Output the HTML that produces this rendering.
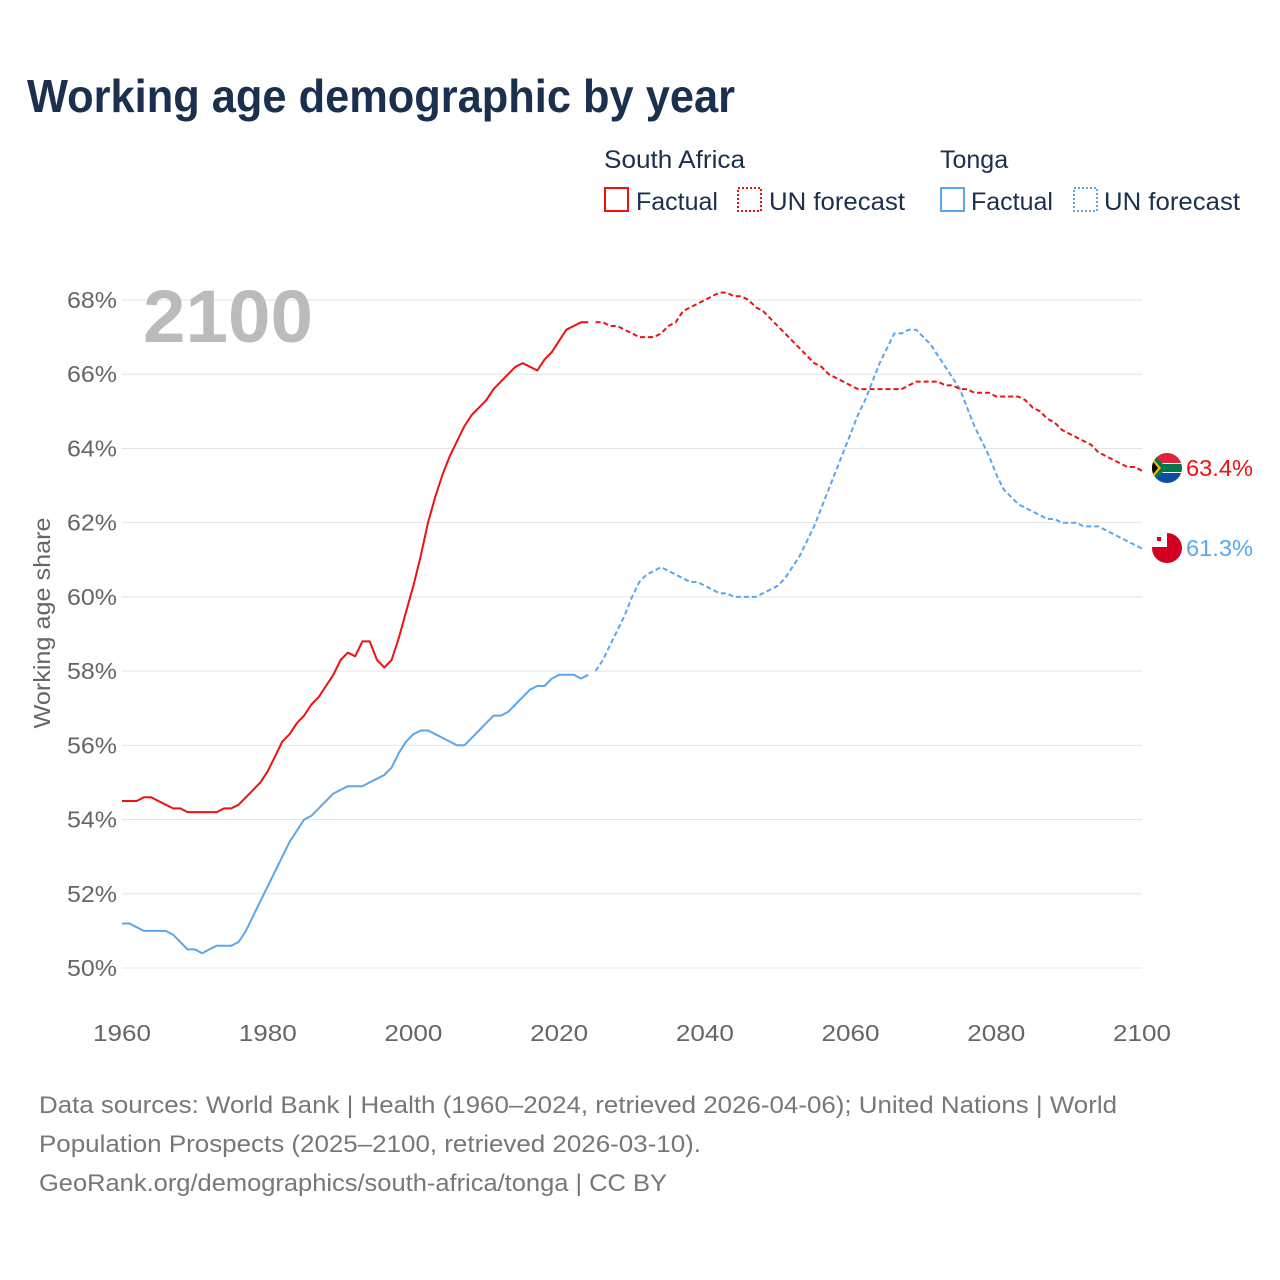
<!DOCTYPE html>
<html><head><meta charset="utf-8"><style>
body{margin:0;background:#fff;font-family:"Liberation Sans",sans-serif;}
#wrap{position:relative;width:1280px;height:1280px;overflow:hidden;}
</style></head><body><div id="wrap">
<svg id="chart" width="1280" height="1280" xmlns="http://www.w3.org/2000/svg">
<defs>
<clipPath id="c1"><circle cx="1167" cy="468" r="15"/></clipPath>
<clipPath id="c2"><circle cx="1167" cy="548" r="15"/></clipPath>
</defs>
<text x="27" y="112" font-size="46" font-weight="bold" fill="#1b2f4e" textLength="708" lengthAdjust="spacingAndGlyphs">Working age demographic by year</text>
<g font-size="25" fill="#1b2f4e">
<text x="604" y="168" textLength="141" lengthAdjust="spacingAndGlyphs">South Africa</text>
<text x="940" y="168">Tonga</text>
<g><rect x="605" y="188" width="23" height="23" fill="none" stroke="#ee1111" stroke-width="2"/><text x="636" y="210">Factual</text></g>
<g><rect x="738" y="188" width="23" height="23" fill="none" stroke="#ee1111" stroke-width="2" stroke-dasharray="2,2"/><text x="769" y="210" textLength="136" lengthAdjust="spacingAndGlyphs">UN forecast</text></g>
<g><rect x="941" y="188" width="23" height="23" fill="none" stroke="#5ba7ea" stroke-width="2"/><text x="971" y="210">Factual</text></g>
<g><rect x="1074" y="188" width="23" height="23" fill="none" stroke="#5ba7ea" stroke-width="2" stroke-dasharray="2,2"/><text x="1104" y="210" textLength="136" lengthAdjust="spacingAndGlyphs">UN forecast</text></g>
</g>
<g id="grid"></g>
<g id="yticks" font-size="23" fill="#666" text-anchor="end"></g>
<g id="xticks" font-size="23" fill="#666" text-anchor="middle"></g>
<text x="143" y="342" font-size="74" font-weight="bold" fill="#bbbbbb" textLength="170" lengthAdjust="spacingAndGlyphs">2100</text>
<text transform="translate(50,623) rotate(-90)" font-size="23" fill="#666" text-anchor="middle" textLength="211" lengthAdjust="spacingAndGlyphs">Working age share</text>
<g id="series"></g>
<g clip-path="url(#c1)">
<rect x="1150" y="451" width="34" height="34" fill="#fff"/>
<rect x="1150" y="451" width="34" height="12" fill="#e0233b"/>
<rect x="1150" y="473" width="34" height="12" fill="#0b4ea2"/>
<polygon points="1150,451 1163,464 1184,464 1184,472 1163,472 1150,485" fill="#007a4d"/>
<polygon points="1150,455 1161,468 1150,481" fill="#ffb612"/>
<polygon points="1150,458 1158,468 1150,478" fill="#000"/>
</g>
<g clip-path="url(#c2)">
<rect x="1150" y="531" width="34" height="34" fill="#d10022"/>
<rect x="1150" y="531" width="17" height="16" fill="#fff"/>
<rect x="1157" y="537" width="4" height="4" fill="#d10022"/>
</g>
<text x="1186" y="476" font-size="23" fill="#ee1111" textLength="67" lengthAdjust="spacingAndGlyphs">63.4%</text>
<text x="1186" y="556" font-size="23" fill="#5ba7ea" textLength="67" lengthAdjust="spacingAndGlyphs">61.3%</text>
<g font-size="24" fill="#777">
<text x="39" y="1113" textLength="1078" lengthAdjust="spacingAndGlyphs">Data sources: World Bank | Health (1960–2024, retrieved 2026-04-06); United Nations | World</text>
<text x="39" y="1152" textLength="662" lengthAdjust="spacingAndGlyphs">Population Prospects (2025–2100, retrieved 2026-03-10).</text>
<text x="39" y="1191" textLength="628" lengthAdjust="spacingAndGlyphs">GeoRank.org/demographics/south-africa/tonga | CC BY</text>
</g>
</svg>
</div>
<script>
const yTicks=[50,52,54,56,58,60,62,64,66,68];
const xTicks=[1960,1980,2000,2020,2040,2060,2080,2100];
const saFactual=[54.5,54.5,54.5,54.6,54.6,54.5,54.4,54.3,54.3,54.2,54.2,54.2,54.2,54.2,54.3,54.3,54.4,54.6,54.8,55.0,55.3,55.7,56.1,56.3,56.6,56.8,57.1,57.3,57.6,57.9,58.3,58.5,58.4,58.8,58.8,58.3,58.1,58.3,58.9,59.6,60.3,61.1,62.0,62.7,63.3,63.8,64.2,64.6,64.9,65.1,65.3,65.6,65.8,66.0,66.2,66.3,66.2,66.1,66.4,66.6,66.9,67.2,67.3,67.4,67.4];
const saForecast=[67.4,67.4,67.3,67.3,67.2,67.1,67.0,67.0,67.0,67.1,67.3,67.4,67.7,67.8,67.9,68.0,68.1,68.2,68.2,68.1,68.1,68.0,67.8,67.7,67.5,67.3,67.1,66.9,66.7,66.5,66.3,66.2,66.0,65.9,65.8,65.7,65.6,65.6,65.6,65.6,65.6,65.6,65.6,65.7,65.8,65.8,65.8,65.8,65.7,65.7,65.6,65.6,65.5,65.5,65.5,65.4,65.4,65.4,65.4,65.3,65.1,65.0,64.8,64.7,64.5,64.4,64.3,64.2,64.1,63.9,63.8,63.7,63.6,63.5,63.5,63.4];
const toFactual=[51.2,51.2,51.1,51.0,51.0,51.0,51.0,50.9,50.7,50.5,50.5,50.4,50.5,50.6,50.6,50.6,50.7,51.0,51.4,51.8,52.2,52.6,53.0,53.4,53.7,54.0,54.1,54.3,54.5,54.7,54.8,54.9,54.9,54.9,55.0,55.1,55.2,55.4,55.8,56.1,56.3,56.4,56.4,56.3,56.2,56.1,56.0,56.0,56.2,56.4,56.6,56.8,56.8,56.9,57.1,57.3,57.5,57.6,57.6,57.8,57.9,57.9,57.9,57.8,57.9];
const toForecast=[58.0,58.3,58.7,59.1,59.5,60.0,60.4,60.6,60.7,60.8,60.7,60.6,60.5,60.4,60.4,60.3,60.2,60.1,60.1,60.0,60.0,60.0,60.0,60.1,60.2,60.3,60.5,60.8,61.1,61.5,61.9,62.4,62.9,63.4,63.9,64.4,64.9,65.3,65.8,66.3,66.7,67.1,67.1,67.2,67.2,67.0,66.8,66.5,66.2,65.9,65.6,65.1,64.6,64.2,63.8,63.3,62.9,62.7,62.5,62.4,62.3,62.2,62.1,62.1,62.0,62.0,62.0,61.9,61.9,61.9,61.8,61.7,61.6,61.5,61.4,61.3];
const NS='http://www.w3.org/2000/svg';
const xs=y=>122+(y-1960)*1020/140;
const ys=v=>968-(v-50)*668/18;
function mk(t,a,p){const e=document.createElementNS(NS,t);for(const k in a)e.setAttribute(k,a[k]);p.appendChild(e);return e;}
const grid=document.getElementById('grid'),yt=document.getElementById('yticks'),xt=document.getElementById('xticks');
yTicks.forEach(v=>{
 const l=mk('line',{x1:122,x2:1142,y1:ys(v),y2:ys(v),stroke:'#e4e4e4','stroke-width':1},grid);
 
 
 const t=mk('text',{x:117,y:ys(v)+8,textLength:50,lengthAdjust:'spacingAndGlyphs'},yt);t.textContent=v+'%';
 
 
});
xTicks.forEach(v=>{
 const t=mk('text',{x:xs(v),y:1041,textLength:58,lengthAdjust:'spacingAndGlyphs'},xt);t.textContent=v;
 
 
});
const ser=document.getElementById('series');
function line(arr,start,color,dash,name){
 const d=arr.map((v,i)=>(i?'L':'M')+xs(start+i).toFixed(1)+','+ys(v).toFixed(1)).join('');
 const p=mk('path',{d:d,fill:'none',stroke:color,'stroke-width':2,'stroke-linejoin':'round'},ser);
 if(dash)p.setAttribute('stroke-dasharray','5,3');
 
 
}
line(toFactual,1960,'#5ba7ea',false,'tonga-factual-line');
line(toForecast,2025,'#5ba7ea',true,'tonga-forecast-line');
line(saFactual,1960,'#ee1111',false,'south-africa-factual-line');
line(saForecast,2025,'#ee1111',true,'south-africa-forecast-line');
</script>
</body></html>
